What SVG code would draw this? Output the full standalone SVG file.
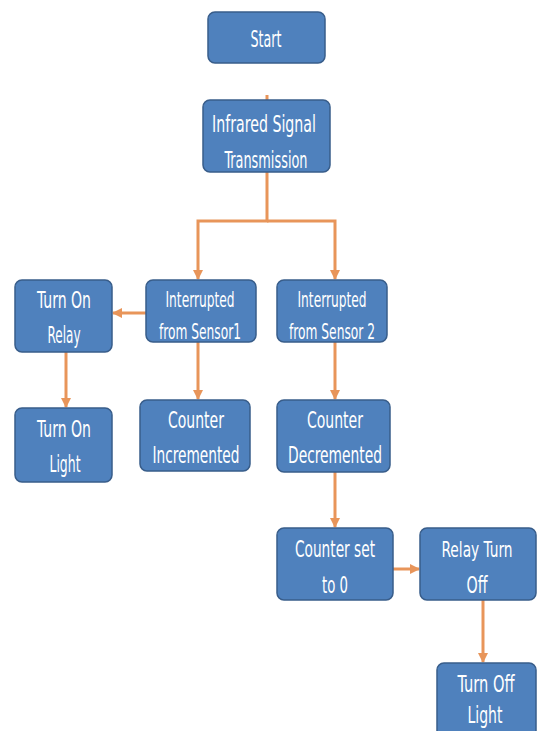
<svg xmlns="http://www.w3.org/2000/svg" width="541" height="731" viewBox="0 0 541 731">
  <style>
    .box { fill: #4F81BD; stroke: #385D8A; stroke-width: 1.5; }
    .lbl { fill: #FFFFFF; font-family: "DejaVu Sans Condensed", "Liberation Sans Narrow", "Liberation Sans", sans-serif; font-size: 23px; text-anchor: middle; }
    .sm { font-size: 21px; }
    .wire { fill: none; stroke: #E8955A; stroke-width: 3; }
  </style>
  <defs>
    <marker id="arrow" viewBox="0 0 10 10" refX="9" refY="5" markerWidth="3.4" markerHeight="3.4" orient="auto" markerUnits="strokeWidth">
      <path d="M0,0 L10,5 L0,10 Z" fill="#E8955A"/>
    </marker>
  </defs>
  <rect width="541" height="731" fill="#FFFFFF"/>

  <g id="connectors">
    <path class="wire" d="M267,95 L267,100" stroke-width="1.5"/>
    <path class="wire" d="M267,172 L267,221 L198,221 L198,279" marker-end="url(#arrow)"/>
    <path class="wire" d="M267,221 L335,221 L335,279" marker-end="url(#arrow)"/>
    <path class="wire" d="M146,313 L113,313" marker-end="url(#arrow)"/>
    <path class="wire" d="M66,352 L66,407" marker-end="url(#arrow)"/>
    <path class="wire" d="M198,342 L198,399" marker-end="url(#arrow)"/>
    <path class="wire" d="M335,342 L335,399" marker-end="url(#arrow)"/>
    <path class="wire" d="M335,472 L335,527" marker-end="url(#arrow)"/>
    <path class="wire" d="M393,569 L419,569" marker-end="url(#arrow)"/>
    <path class="wire" d="M483,600 L483,662" marker-end="url(#arrow)"/>
  </g>

  <g id="start">
    <rect class="box" x="208" y="12" width="117" height="51" rx="7"/>
    <text class="lbl" x="266" y="47" textLength="31" lengthAdjust="spacingAndGlyphs">Start</text>
  </g>
  <g id="infrared">
    <rect class="box" x="203" y="100" width="127" height="72" rx="7"/>
    <text class="lbl" x="264" y="132" textLength="104" lengthAdjust="spacingAndGlyphs">Infrared Signal</text>
    <text class="lbl" x="266" y="168" textLength="83" lengthAdjust="spacingAndGlyphs">Transmission</text>
  </g>
  <g id="sensor1">
    <rect class="box" x="146" y="280" width="110" height="62" rx="7"/>
    <text class="lbl sm" x="200" y="307" textLength="69" lengthAdjust="spacingAndGlyphs">Interrupted</text>
    <text class="lbl sm" x="200" y="339" textLength="82" lengthAdjust="spacingAndGlyphs">from Sensor1</text>
  </g>
  <g id="sensor2">
    <rect class="box" x="277" y="280" width="110" height="62" rx="7"/>
    <text class="lbl sm" x="332" y="307" textLength="69" lengthAdjust="spacingAndGlyphs">Interrupted</text>
    <text class="lbl sm" x="332" y="339" textLength="86" lengthAdjust="spacingAndGlyphs">from Sensor 2</text>
  </g>
  <g id="relay-on">
    <rect class="box" x="15" y="280" width="97" height="72" rx="7"/>
    <text class="lbl" x="64" y="308" textLength="54" lengthAdjust="spacingAndGlyphs">Turn On</text>
    <text class="lbl" x="64" y="343" textLength="33" lengthAdjust="spacingAndGlyphs">Relay</text>
  </g>
  <g id="light-on">
    <rect class="box" x="15" y="408" width="97" height="74" rx="7"/>
    <text class="lbl" x="64" y="437" textLength="54" lengthAdjust="spacingAndGlyphs">Turn On</text>
    <text class="lbl" x="65" y="472" textLength="31" lengthAdjust="spacingAndGlyphs">Light</text>
  </g>
  <g id="incremented">
    <rect class="box" x="140" y="400" width="110" height="71" rx="7"/>
    <text class="lbl" x="196" y="428" textLength="56" lengthAdjust="spacingAndGlyphs">Counter</text>
    <text class="lbl" x="196" y="463" textLength="87" lengthAdjust="spacingAndGlyphs">Incremented</text>
  </g>
  <g id="decremented">
    <rect class="box" x="277" y="400" width="113" height="72" rx="7"/>
    <text class="lbl" x="335" y="428" textLength="56" lengthAdjust="spacingAndGlyphs">Counter</text>
    <text class="lbl" x="335" y="463" textLength="94" lengthAdjust="spacingAndGlyphs">Decremented</text>
  </g>
  <g id="reset">
    <rect class="box" x="277" y="528" width="116" height="72" rx="7"/>
    <text class="lbl" x="335" y="557" textLength="80" lengthAdjust="spacingAndGlyphs">Counter set</text>
    <text class="lbl" x="335" y="593" textLength="26" lengthAdjust="spacingAndGlyphs">to 0</text>
  </g>
  <g id="relay-off">
    <rect class="box" x="420" y="528" width="116" height="72" rx="7"/>
    <text class="lbl sm" x="477" y="557" textLength="71" lengthAdjust="spacingAndGlyphs">Relay Turn</text>
    <text class="lbl" x="477" y="593" textLength="21" lengthAdjust="spacingAndGlyphs">Off</text>
  </g>
  <g id="light-off">
    <rect class="box" x="437" y="663" width="99" height="80" rx="7"/>
    <text class="lbl" x="486" y="692" textLength="57" lengthAdjust="spacingAndGlyphs">Turn Off</text>
    <text class="lbl" x="485" y="723" textLength="35" lengthAdjust="spacingAndGlyphs">Light</text>
  </g>
</svg>
